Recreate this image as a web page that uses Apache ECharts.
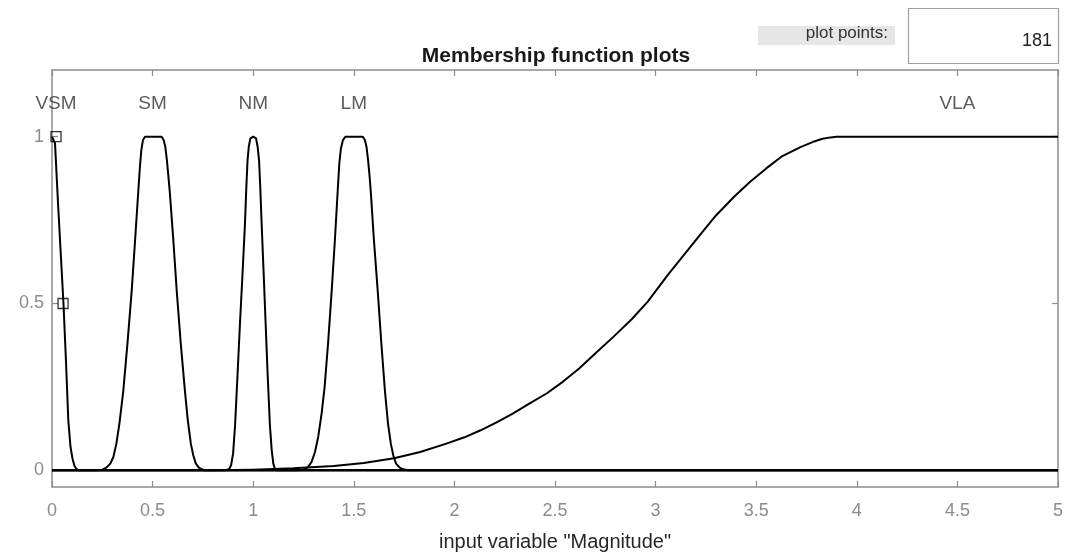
<!DOCTYPE html>
<html>
<head>
<meta charset="utf-8">
<script src="https://cdn.jsdelivr.net/npm/echarts@6/dist/echarts.min.js"></script>
<style>html,body{margin:0;padding:0;background:#fff}#c{width:1067px;height:552px}</style>
</head>
<body>
<div id="c"></div>
<script>
// ---- data ----
var xTicks = [0, 0.5, 1, 1.5, 2, 2.5, 3, 3.5, 4, 4.5, 5];
var yTicks = [0, 0.5, 1];

var vsmX = [0, 0.015, 0.03, 0.057, 0.07, 0.081, 0.092, 0.102, 0.112, 0.122, 0.132, 0.16, 5];
var vsmY = [1, 0.98, 0.8, 0.5, 0.32, 0.15, 0.07, 0.035, 0.013, 0.004, 0, 0, 0];

var smX = [0, 0.22, 0.25, 0.27, 0.29, 0.305, 0.32, 0.335, 0.354, 0.375, 0.396, 0.413, 0.429, 0.437, 0.444, 0.452, 0.462, 0.503, 0.545, 0.555, 0.563, 0.571, 0.578, 0.586, 0.603, 0.62, 0.64, 0.661, 0.675, 0.69, 0.702, 0.715, 0.73, 0.744, 0.76, 0.8, 5];
var smY = [0, 0, 0.002, 0.008, 0.02, 0.04, 0.08, 0.14, 0.236, 0.38, 0.537, 0.69, 0.838, 0.91, 0.96, 0.99, 1, 1, 1, 0.99, 0.97, 0.93, 0.885, 0.83, 0.69, 0.537, 0.38, 0.236, 0.15, 0.08, 0.045, 0.02, 0.008, 0.003, 0, 0, 0];

var nmX = [0, 0.86, 0.88, 0.89, 0.9, 0.91, 0.922, 0.934, 0.947, 0.959, 0.966, 0.972, 0.978, 0.986, 1.0, 1.014, 1.022, 1.029, 1.035, 1.042, 1.052, 1.062, 1.072, 1.083, 1.092, 1.1, 1.108, 1.12, 5];
var nmY = [0, 0, 0.003, 0.015, 0.05, 0.136, 0.285, 0.437, 0.59, 0.738, 0.85, 0.93, 0.97, 0.995, 1, 0.995, 0.97, 0.93, 0.85, 0.738, 0.59, 0.437, 0.285, 0.136, 0.06, 0.02, 0.004, 0, 0];

var lmX = [0, 1.22, 1.25, 1.27, 1.29, 1.307, 1.323, 1.34, 1.355, 1.372, 1.39, 1.406, 1.42, 1.428, 1.436, 1.446, 1.458, 1.5, 1.545, 1.555, 1.563, 1.571, 1.578, 1.585, 1.6, 1.619, 1.637, 1.655, 1.67, 1.684, 1.696, 1.71, 1.728, 1.746, 1.77, 5];
var lmY = [0, 0, 0.002, 0.008, 0.025, 0.055, 0.1, 0.17, 0.25, 0.38, 0.537, 0.69, 0.838, 0.92, 0.965, 0.99, 1, 1, 1, 0.99, 0.97, 0.93, 0.885, 0.83, 0.69, 0.537, 0.38, 0.236, 0.14, 0.08, 0.045, 0.02, 0.008, 0.003, 0, 0];

var vlaX = [0, 0.8, 1.0, 1.2, 1.4, 1.55, 1.7, 1.83, 1.96, 2.05, 2.13, 2.21, 2.29, 2.37, 2.46, 2.54, 2.62, 2.7, 2.79, 2.88, 2.96, 3.06, 3.14, 3.22, 3.3, 3.39, 3.47, 3.55, 3.63, 3.72, 3.78, 3.83, 3.87, 3.9, 4.0, 5];
var vlaY = [0, 0, 0.002, 0.006, 0.013, 0.022, 0.036, 0.055, 0.08, 0.099, 0.12, 0.144, 0.17, 0.199, 0.231, 0.266, 0.305, 0.35, 0.4, 0.452, 0.505, 0.585, 0.645, 0.705, 0.764, 0.82, 0.865, 0.905, 0.942, 0.969, 0.984, 0.994, 0.998, 1, 1, 1];

var mfNames = ['VSM', 'SM', 'NM', 'LM', 'VLA'];
var mfLabelX = [0.02, 0.5, 1.0, 1.5, 4.5];
var mfLabelY = 1.1;

var markerX = [0.02, 0.055];
var markerY = [1, 0.5];

var plotPoints = '181';

// ---- build ----
function pairs(xs, ys) { return xs.map(function (x, i) { return [x, ys[i]]; }); }

var chart = echarts.init(document.getElementById('c'), null, {renderer: 'canvas'});
var axisGray = '#8c8c8c';
var font = 'Liberation Sans, Arial, Helvetica, sans-serif';

function mfSeries(name, xs, ys) {
  return {
    name: name, type: 'line', data: pairs(xs, ys), showSymbol: false, symbol: 'none',
    smooth: false,
    lineStyle: {color: '#000', width: 2, join: 'round'}, z: 3, silent: true, animation: false
  };
}

var option = {
  animation: false,
  grid: {left: 52, right: 9, top: 70, bottom: 65, containLabel: false, outerBoundsMode: 'none'},
  xAxis: [{
    type: 'value', min: 0, max: 5, interval: 0.5, position: 'bottom',
    axisLine: {show: true, onZero: false, lineStyle: {color: axisGray, width: 1.5}},
    axisTick: {show: true, inside: true, length: 6, lineStyle: {color: axisGray, width: 1.2}},
    axisLabel: {color: '#8c8c8c', fontSize: 18, fontFamily: font, margin: 15,
      formatter: function (v) { return String(v); }},
    splitLine: {show: false},
    name: 'input variable "Magnitude"', nameLocation: 'middle', nameGap: 45,
    nameTextStyle: {color: '#262626', fontSize: 20, fontFamily: font, verticalAlign: 'top'}
  }, {
    type: 'value', min: 0, max: 5, interval: 0.5, position: 'top',
    axisLine: {show: true, onZero: false, lineStyle: {color: axisGray, width: 1.5}},
    axisTick: {show: true, inside: true, length: 6, lineStyle: {color: axisGray, width: 1.2}},
    axisLabel: {show: false}, splitLine: {show: false}
  }],
  yAxis: [{
    type: 'value', min: -0.05, max: 1.2, position: 'left',
    axisLine: {show: true, onZero: false, lineStyle: {color: axisGray, width: 1.5}},
    axisTick: {show: true, inside: true, length: 6, customValues: yTicks, lineStyle: {color: axisGray, width: 1.2}},
    axisLabel: {color: '#8c8c8c', fontSize: 18, fontFamily: font, margin: 8, customValues: yTicks,
      formatter: function (v) { return String(v); }},
    splitLine: {show: false}
  }, {
    type: 'value', min: -0.05, max: 1.2, position: 'right',
    axisLine: {show: true, onZero: false, lineStyle: {color: axisGray, width: 1.5}},
    axisTick: {show: true, inside: true, length: 6, customValues: yTicks, lineStyle: {color: axisGray, width: 1.2}},
    axisLabel: {show: false}, splitLine: {show: false}
  }],
  series: [
    mfSeries('VLA', vlaX, vlaY),
    mfSeries('LM', lmX, lmY),
    mfSeries('NM', nmX, nmY),
    mfSeries('SM', smX, smY),
    mfSeries('VSM', vsmX, vsmY),
    {
      type: 'scatter', data: pairs(markerX, markerY), symbol: 'rect', symbolSize: 10,
      itemStyle: {color: 'rgba(0,0,0,0)', borderColor: '#000', borderWidth: 1.3}, z: 5, silent: true
    },
    {
      type: 'scatter', symbolSize: 0, silent: true, z: 6,
      data: mfNames.map(function (n, i) { return {name: n, value: [mfLabelX[i], mfLabelY]}; }),
      label: {show: true, position: 'inside', formatter: '{b}', color: '#333', fontSize: 19, fontFamily: font}
    }
  ],
  graphic: [
    {type: 'text', style: {text: 'Membership function plots', x: 556, y: 56,
      textAlign: 'center', textVerticalAlign: 'middle', font: 'bold 21px ' + font, fill: '#1a1a1a'}, z: 10},
    {type: 'rect', shape: {x: 758, y: 26, width: 137, height: 19}, style: {fill: '#e6e6e6'}, z: 10},
    {type: 'text', style: {text: 'plot points:', x: 888, y: 33, textAlign: 'right', textVerticalAlign: 'middle', font: '17px ' + font, fill: '#333'}, z: 11},
    {type: 'rect', shape: {x: 908.5, y: 8.5, width: 150, height: 55}, style: {fill: '#fff', stroke: '#a0a0a0', lineWidth: 1.2}, z: 10},
    {type: 'text', style: {text: plotPoints, x: 1052, y: 41, textAlign: 'right', textVerticalAlign: 'middle', font: '18px ' + font, fill: '#222'}, z: 11}
  ]
};
chart.setOption(option);
</script>
</body>
</html>
